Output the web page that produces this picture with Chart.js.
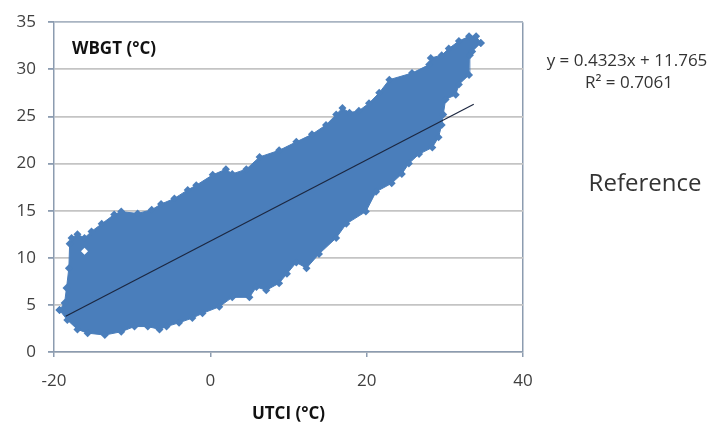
<!DOCTYPE html>
<html>
<head>
<meta charset="utf-8">
<title>WBGT vs UTCI</title>
<script src="https://cdn.jsdelivr.net/npm/chart.js@4.4.1/dist/chart.umd.min.js"></script>
<style>
  html, body { margin: 0; padding: 0; background: #ffffff; }
  #wrap { position: relative; width: 718px; height: 430px; }
</style>
</head>
<body>
<div id="wrap"><canvas id="chart" width="718" height="430"></canvas></div>
<script>
// Outline of the point cloud (UTCI on x, WBGT on y)
const upperEdge = [
  [-19.3, 4.45], [-18.65, 5.2], [-18.4, 6.8], [-18.1, 8.9], [-18.0, 11.5], [-17.75, 12.1],
  [-17.0, 12.5], [-16.1, 12.1], [-15.2, 12.8], [-13.9, 13.6], [-12.3, 14.6], [-11.4, 14.9],
  [-9.3, 14.7], [-7.5, 15.1], [-6.3, 15.7], [-4.6, 16.3], [-2.9, 17.2], [-1.8, 17.7],
  [0.3, 18.8], [2.0, 19.4], [2.8, 18.9], [4.6, 19.4], [6.3, 20.7], [8.8, 21.4],
  [11.0, 22.3], [13.0, 23.1], [14.8, 24.1], [16.1, 25.2], [16.9, 25.9], [17.8, 25.4],
  [19.0, 25.6], [20.3, 26.4], [21.6, 27.5], [22.9, 28.9], [25.8, 29.6], [28.0, 30.5],
  [28.2, 31.2], [29.6, 31.5], [30.5, 32.2], [31.8, 33.0], [33.1, 33.5], [34.0, 33.5],
  [34.6, 32.8]
];
const lowerEdge = [
  [-19.3, 4.45], [-18.3, 3.4], [-17.0, 2.4], [-15.7, 2.0], [-13.5, 1.8], [-11.4, 2.15],
  [-9.7, 2.7], [-8.0, 2.7], [-6.5, 2.4], [-5.6, 2.7], [-4.0, 3.1], [-2.3, 3.6],
  [-1.0, 4.1], [1.15, 4.8], [2.8, 5.8], [5.0, 5.8], [5.9, 6.9], [7.15, 6.55],
  [8.8, 7.3], [9.8, 8.3], [11.0, 9.5], [12.3, 8.9], [13.9, 10.4], [16.1, 12.1],
  [17.4, 13.6], [19.9, 14.9], [21.2, 17.0], [23.2, 17.9], [24.5, 18.9], [25.4, 20.0],
  [26.7, 21.0], [28.4, 21.7], [29.2, 22.8], [29.6, 24.1], [29.8, 25.2], [30.1, 26.8],
  [31.4, 27.3], [31.8, 28.4], [33.1, 29.4], [33.2, 31.5], [33.5, 31.9], [34.6, 32.8]
];
// small gap inside the cloud
const gaps = [[-16.1, 10.7]];
// linear trend line end points
const trendEnds = [[-18.5, 3.8], [33.7, 26.3]];

const xTicks = [-20, 0, 20, 40];
const yTicks = [0, 5, 10, 15, 20, 25, 30, 35];

const equationText = 'y = 0.4323x + 11.765';
const rSquaredText = 'R\u00B2 = 0.7061';
const yTitle = 'WBGT (\u00B0C)';
const xTitle = 'UTCI (\u00B0C)';

const toXY = arr => arr.map(p => ({ x: p[0], y: p[1] }));
const cloudBlue = '#4a7ebb';

// texts that sit outside the normal chart.js slots
const annotations = {
  id: 'annotations',
  afterDraw(chart) {
    const ctx = chart.ctx;
    ctx.save();
    ctx.textBaseline = 'middle';
    ctx.fillStyle = '#111';
    ctx.textAlign = 'left';
    ctx.font = 'bold 17px "Open Sans"';
    ctx.fillText(yTitle, 72, 49);
    ctx.fillStyle = '#333';
    ctx.textAlign = 'center';
    ctx.font = '17px "Open Sans"';
    ctx.fillText(equationText, 627, 61);
    ctx.fillText(rSquaredText, 629, 83);
    ctx.font = '24px "Open Sans"';
    ctx.fillText('Reference', 645, 184);
    ctx.restore();
  }
};

new Chart(document.getElementById('chart'), {
  type: 'line',
  data: {
    datasets: [
      {
        label: 'trend',
        data: toXY(trendEnds),
        borderColor: '#1c2740',
        borderWidth: 1.2,
        pointRadius: 0,
        fill: false
      },
      {
        label: 'gaps',
        data: toXY(gaps),
        showLine: false,
        pointStyle: 'rectRot',
        pointRadius: 3.5,
        pointBackgroundColor: '#ffffff',
        pointBorderWidth: 0
      },
      {
        label: 'lower',
        data: toXY(lowerEdge),
        borderColor: cloudBlue,
        borderWidth: 1,
        pointStyle: 'rectRot',
        pointRadius: 4,
        pointBackgroundColor: cloudBlue,
        pointBorderWidth: 0,
        tension: 0,
        fill: false
      },
      {
        label: 'upper',
        data: toXY(upperEdge),
        borderColor: cloudBlue,
        borderWidth: 1,
        backgroundColor: cloudBlue,
        pointStyle: 'rectRot',
        pointRadius: 4,
        pointBackgroundColor: cloudBlue,
        pointBorderWidth: 0,
        tension: 0,
        fill: 2
      }
    ]
  },
  options: {
    responsive: false,
    animation: false,
    events: [],
    layout: { padding: { top: 19, right: 195, left: 0, bottom: 0 } },
    plugins: {
      legend: { display: false },
      tooltip: { enabled: false }
    },
    scales: {
      x: {
        type: 'linear',
        min: -20,
        max: 40,
        afterBuildTicks: axis => { axis.ticks = xTicks.map(v => ({ value: v })); },
        afterFit: axis => { axis.height = 78; },
        grid: {
          drawOnChartArea: true,
          color: c => (c.tick && c.tick.value === 40 ? '#8c9cb0' : 'rgba(0,0,0,0)'),
          lineWidth: 1.5,
          tickColor: '#8c9cb0',
          tickLength: 5
        },
        border: { color: '#8c9cb0', width: 1.5 },
        ticks: {
          padding: 14,
          color: '#404040',
          font: { family: 'Open Sans', size: 17 }
        },
        title: {
          display: true,
          text: xTitle,
          color: '#111',
          font: { family: 'Open Sans', size: 17, weight: 'bold' },
          padding: { top: 0, bottom: 6 }
        }
      },
      y: {
        min: 0,
        max: 35,
        afterBuildTicks: axis => { axis.ticks = yTicks.map(v => ({ value: v })); },
        afterFit: axis => { axis.width = 54; },
        grid: {
          color: c => (c.tick && c.tick.value === 35 ? '#a9b4c2' : '#c4c4c4'),
          lineWidth: 1.8,
          tickColor: '#8c9cb0',
          tickLength: 6
        },
        border: { color: '#8c9cb0', width: 1.5 },
        ticks: {
          padding: 12,
          color: '#404040',
          font: { family: 'Open Sans', size: 17 }
        }
      }
    }
  },
  plugins: [annotations]
});
</script>
</body>
</html>
